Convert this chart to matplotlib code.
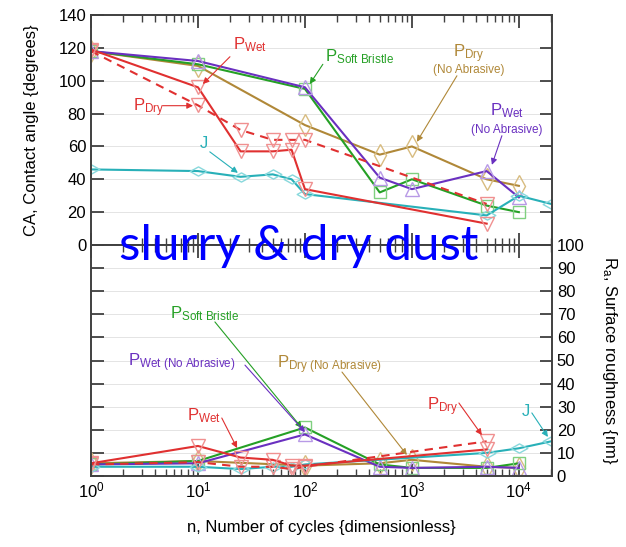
import numpy as np
import matplotlib
matplotlib.use('Agg')
import matplotlib.pyplot as plt
from matplotlib.path import Path

plt.rcParams['font.family'] = ['Liberation Sans', 'DejaVu Sans']
plt.rcParams['mathtext.fontset'] = 'custom'
plt.rcParams['mathtext.rm'] = 'Liberation Sans'
plt.rcParams['mathtext.it'] = 'Liberation Sans:italic'
plt.rcParams['mathtext.bf'] = 'Liberation Sans:bold'

# cycle counts
n_red = [1, 10, 25, 50, 75, 100, 5000]
n_main = [1, 10, 100, 500, 1000, 5000, 10000]
n_j = [1, 10, 25, 50, 75, 100, 5000, 10000, 20000]

# contact angle (degrees)
ca_pwet = [119, 96, 57, 57, 58, 34, 13]
ca_pdry = [118, 85, 70, 64, 64, 64, 25]
ca_soft = [118, 110, 95, 32, 40, 24, 20]
ca_wet_na = [118, 112, 96, 41, 34, 45, 29]
ca_dry_na = [118, 109, 73, 55, 60, 40, 36]
ca_j = [46, 45, 41.5, 43, 40, 31, 18, 30, 25]

# surface roughness Ra (nm)
ra_pwet = [5.5, 13, 8, 7, 4.5, 4.5, 11.5]
ra_pdry = [5, 6, 4, 4, 3, 4, 15]
ra_soft = [5, 6.5, 21, 5, 3.5, 3.5, 5.5]
ra_wet_na = [5, 5.5, 18, 4, 3.5, 4, 3.5]
ra_dry_na = [5.5, 6.5, 4.5, 5.5, 7, 4, 3.5]
ra_j = [4, 4, 3, 4, 4, 5, 10, 12, 15]

RED = '#e03030'
GREEN = '#25a025'
PURPLE = '#6a30c0'
TAN = '#b08838'
CYAN = '#28b0b8'

# wide diamond used for J
wide_diamond = Path([(-1, 0), (0, 0.55), (1, 0), (0, -0.55), (-1, 0)],
                    [Path.MOVETO, Path.LINETO, Path.LINETO, Path.LINETO, Path.CLOSEPOLY])

styles = {
    'pwet': dict(color=RED, ls='-', marker='v', mec='#f09090', ms=10),
    'pdry': dict(color=RED, ls='--', marker='v', mec='#f09090', ms=10, dashes=(4, 3)),
    'soft': dict(color=GREEN, ls='-', marker='s', mec='#80d080', ms=9),
    'wet_na': dict(color=PURPLE, ls='-', marker='^', mec='#b89ae6', ms=10),
    'dry_na': dict(color=TAN, ls='-', marker='d', mec='#d8bc80', ms=11),
    'j': dict(color=CYAN, ls='-', marker=wide_diamond, mec='#88d8dc', ms=12),
}


def draw(ax, n, vals, key):
    ax.plot(n, vals, lw=1.5, mfc='none', mew=1.0, **styles[key])


def arrow(ax, text, tpos, start, tip, color, size=12, ha='left'):
    ax.text(tpos[0], tpos[1], text, color=color, fontsize=size, ha=ha, va='baseline')
    ax.annotate('', xy=tip, xytext=start,
                arrowprops=dict(arrowstyle='-|>', color=color, lw=0.8,
                                mutation_scale=9, shrinkA=0, shrinkB=0))


fig = plt.figure(figsize=(6.26, 5.47), dpi=100)
ax1 = fig.add_axes([91/626, 1-245/547, (552-91)/626, 230/547])
ax2 = fig.add_axes([91/626, 1-476/547, (552-91)/626, 231/547], sharex=ax1)

draw(ax1, n_main, ca_dry_na, 'dry_na')
draw(ax1, n_main, ca_soft, 'soft')
draw(ax1, n_main, ca_wet_na, 'wet_na')
draw(ax1, n_j, ca_j, 'j')
draw(ax1, n_red, ca_pdry, 'pdry')
draw(ax1, n_red, ca_pwet, 'pwet')

draw(ax2, n_main, ra_dry_na, 'dry_na')
draw(ax2, n_main, ra_soft, 'soft')
draw(ax2, n_main, ra_wet_na, 'wet_na')
draw(ax2, n_j, ra_j, 'j')
draw(ax2, n_red, ra_pdry, 'pdry')
draw(ax2, n_red, ra_pwet, 'pwet')

for ax in (ax1, ax2):
    ax.set_xscale('log')
    ax.set_xlim(1, 2.04e4)
    for s in ax.spines.values():
        s.set_color('#404040')
        s.set_linewidth(1.4)
    ax.tick_params(which='both', direction='in', top=True, bottom=True,
                   left=True, right=True, color='#404040', labelsize=12)
    ax.tick_params(which='major', length=9, width=1.3)
    ax.tick_params(which='minor', length=5, width=1.0)
    ax.yaxis.grid(True, color='#e4e4e4', lw=0.7)
    ax.set_axisbelow(True)

ax1.set_ylim(0, 140)
ax1.set_yticks(np.arange(0, 141, 20))
ax1.tick_params(axis='x', labelbottom=False)
ax1.set_ylabel('CA, Contact angle {degrees}', fontsize=12, labelpad=14)

ax2.set_ylim(0, 100)
ax2.set_yticks(np.arange(0, 101, 10))
ax2.tick_params(axis='y', labelleft=False, labelright=True)
ax2.yaxis.set_label_position('right')
ax2.set_ylabel('R$_{\\mathrm{a}}$, Surface roughness {nm}', fontsize=12,
               rotation=-90, va='bottom', labelpad=11)
ax2.set_xlabel('n, Number of cycles {dimensionless}', fontsize=12, labelpad=14)
ax2.set_xticks([1, 10, 100, 1000, 10000])

# contact angle labels
arrow(ax1, 'P$_{\\mathrm{Wet}}$', (21.2, 119), (19.9, 114.6), (11.1, 98), RED)
arrow(ax1, 'P$_{\\mathrm{Dry}}$', (2.47, 81.5), (4.7, 84.8), (9.0, 84.8), RED)
arrow(ax1, 'J', (10.4, 59), (12.9, 56.7), (23.6, 43.9), CYAN)
arrow(ax1, 'P$_{\\mathrm{Soft\\ Bristle}}$', (154, 111.6), (147, 110), (111, 98), GREEN)
arrow(ax1, 'P$_{\\mathrm{Dry}}$', (3410, 114), (2635, 103), (1113, 62.8), TAN, ha='center')
ax1.text(3410, 105, '(No Abrasive)', color=TAN, fontsize=8.5, ha='center', va='baseline')
arrow(ax1, 'P$_{\\mathrm{Wet}}$', (7727, 78.7), (6937, 66.5), (5595, 48.8), PURPLE, ha='center')
ax1.text(7727, 68.3, '(No Abrasive)', color=PURPLE, fontsize=8.5, ha='center', va='baseline')

# roughness labels
arrow(ax2, 'P$_{\\mathrm{Soft\\ Bristle}}$', (5.47, 68.4), (14.4, 66.7), (93.5, 20.8), GREEN)
arrow(ax2, 'P$_{\\mathrm{Wet\\ (No\\ Abrasive)}}$', (2.22, 47.6), (27.5, 48), (100, 19), PURPLE)
arrow(ax2, 'P$_{\\mathrm{Dry\\ (No\\ Abrasive)}}$', (54.7, 46.8), (222, 45), (898, 9.1), TAN)
arrow(ax2, 'P$_{\\mathrm{Wet}}$', (7.9, 24.2), (16.7, 25.1), (23.2, 12.1), RED)
arrow(ax2, 'P$_{\\mathrm{Dry}}$', (1381, 28.6), (2750, 31.6), (4511, 17.7), RED)
arrow(ax2, 'J', (10660, 26), (13220, 27.3), (18680, 16.9), CYAN)

fig.text(298.5/626, 1-260/547, 'slurry & dry dust', color='#0000ff',
         fontsize=35.5, family='Lato', ha='center', va='baseline')

fig.savefig('out.png', dpi=100)
